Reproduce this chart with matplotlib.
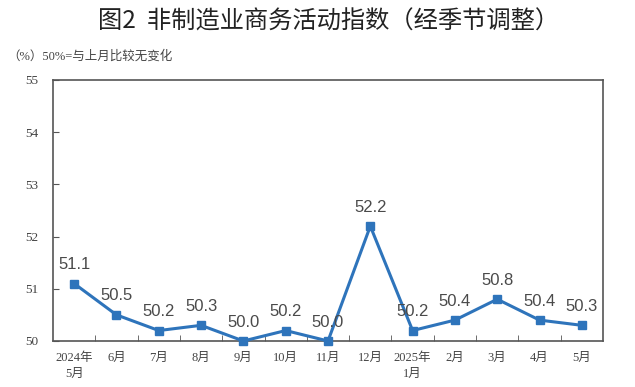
import matplotlib
matplotlib.use("Agg")
import matplotlib.pyplot as plt
from matplotlib.ticker import FixedLocator

plt.rcParams["font.family"] = ["Noto Sans CJK SC", "DejaVu Sans"]

months = ["2024年\n5月", "6月", "7月", "8月", "9月", "10月", "11月", "12月",
          "2025年\n1月", "2月", "3月", "4月", "5月"]
values = [51.1, 50.5, 50.2, 50.3, 50.0, 50.2, 50.0, 52.2, 50.2, 50.4, 50.8, 50.4, 50.3]
y_ticks = [50, 51, 52, 53, 54, 55]

LINE = "#2e74bb"
TEXT = "#444444"
FRAME = "#555555"
SERIF = ["Liberation Serif", "Noto Sans CJK SC"]

fig = plt.figure(figsize=(6.35, 3.87), dpi=100)
ax = fig.add_axes([0.0835, 0.1189, 0.8661, 0.6744])

x = list(range(len(months)))
ax.plot(x, values, color=LINE, linewidth=2.2, marker="s", markersize=5.5,
        clip_on=False, zorder=3)
for xi, v in zip(x, values):
    ax.text(xi, v + 0.22, f"{v:.1f}", ha="center", va="bottom",
            fontsize=12, color="#4a4a4a", family="Liberation Sans")

ax.set_xlim(-0.5, len(months) - 0.5)
ax.set_ylim(50, 55)
ax.set_yticks(y_ticks)
ax.set_xticks(x)
ax.set_xticklabels(months, fontsize=9, color=TEXT, linespacing=1.45, family=SERIF)
ax.xaxis.set_minor_locator(FixedLocator([i + 0.5 for i in x[:-1]]))
ax.tick_params(axis="x", which="major", length=0, pad=8)
ax.tick_params(axis="x", which="minor", direction="in", length=4, color=FRAME)
ax.tick_params(axis="y", direction="in", length=4, color=FRAME,
               labelsize=9.5, labelcolor=TEXT, pad=15)
for lbl in ax.get_yticklabels():
    lbl.set_horizontalalignment("center")
    lbl.set_family(SERIF)

for side in ["left", "right", "top", "bottom"]:
    ax.spines[side].set_color(FRAME)
    ax.spines[side].set_linewidth(1.2)

fig.text(0.517, 0.945, "图2  非制造业商务活动指数（经季节调整）",
         ha="center", va="center", fontsize=17.5, fontweight="medium", color="#222222")
fig.text(0.012, 0.853, "（%）50%=与上月比较无变化", ha="left", va="center",
         fontsize=9, color=TEXT, family=SERIF)

fig.savefig("out.png", dpi=100)
